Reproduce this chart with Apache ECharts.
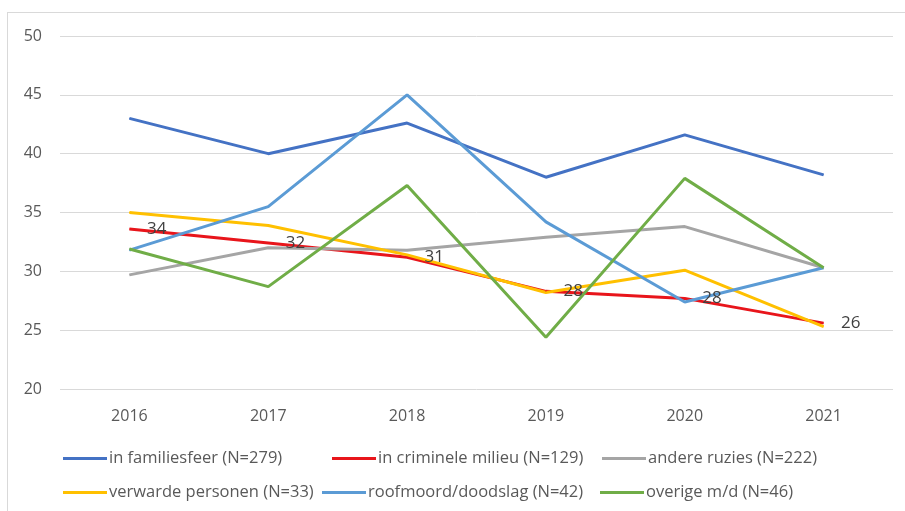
<!DOCTYPE html>
<html>
<head>
<meta charset="utf-8">
<script src="https://cdn.jsdelivr.net/npm/echarts@6/dist/echarts.min.js"></script>
<style>
  html, body { margin: 0; padding: 0; background: #fff; }
  .frame {
    position: absolute;
    left: 7px;
    top: 12px;
    width: 905px;
    height: 510px;
    border-top: 1px solid #d9d9d9;
    border-left: 1px solid #d9d9d9;
  }
  #chart { width: 905px; height: 511px; position: absolute; left: 0; top: 0; }
</style>
</head>
<body>
<div class="frame"></div>
<div id="chart"></div>
<script>
// jaren
const years = ['2016', '2017', '2018', '2019', '2020', '2021'];

const familie = [43.0, 40.0, 42.6, 38.0, 41.6, 38.2];
const crimineel = [33.6, 32.4, 31.2, 28.3, 27.7, 25.6];
const ruzies = [29.7, 32.0, 31.8, 32.9, 33.8, 30.3];
const verward = [35.0, 33.9, 31.4, 28.2, 30.1, 25.3];
const roofmoord = [31.8, 35.5, 45.0, 34.2, 27.4, 30.3];
const overige = [31.9, 28.7, 37.3, 24.4, 37.9, 30.3];

const names = [
  'in familiesfeer (N=279)',
  'in criminele milieu (N=129)',
  'andere ruzies (N=222)',
  'verwarde personen (N=33)',
  'roofmoord/doodslag (N=42)',
  'overige m/d (N=46)'
];
const colors = ['#4472C4', '#E8151B', '#A5A5A5', '#FFC000', '#5B9BD5', '#70AD47'];
const seriesData = [familie, crimineel, ruzies, verward, roofmoord, overige];

const yTicks = { min: 20, max: 50, interval: 5 };

const fontFam = '"Open Sans", sans-serif';
const myChart = echarts.init(document.getElementById('chart'));

// legenda posities (kolommen zoals in Excel)
const legendPos = [
  [63, 450], [332, 450], [602, 450],
  [63, 484], [322, 484], [600, 484]
];

const series = names.map((name, i) => {
  const s = {
    name: name,
    type: 'line',
    data: seriesData[i],
    symbol: 'circle',
    symbolSize: 1,
    showSymbol: true,
    lineStyle: { width: 3, color: colors[i] },
    itemStyle: { color: colors[i] },
    emphasis: { disabled: true },
    animation: false
  };
  if (i === 1) {
    s.label = {
      show: true,
      position: 'right',
      distance: 17,
      color: '#404040',
      fontFamily: fontFam,
      fontSize: 17,
      formatter: p => Math.round(p.value)
    };
  }
  return s;
});

const chartOption = {
  animation: false,
  color: colors,
  grid: {
    left: 60,
    right: 12,
    top: 36,
    bottom: 122
  },
  legend: names.map((name, i) => ({
    data: [name],
    left: legendPos[i][0],
    top: legendPos[i][1],
    padding: 0,
    icon: 'rect',
    itemWidth: 44,
    itemHeight: 3,
    itemGap: 2,
    selectedMode: false,
    textStyle: {
      color: '#595959',
      fontFamily: fontFam,
      fontSize: 16.5,
      padding: [0, 0, 0, -3]
    }
  })),
  xAxis: {
    type: 'category',
    data: years,
    boundaryGap: true,
    axisTick: { show: false },
    axisLine: { show: false },
    axisLabel: {
      color: '#595959',
      fontFamily: fontFam,
      fontSize: 16,
      margin: 19
    }
  },
  yAxis: {
    type: 'value',
    min: yTicks.min,
    max: yTicks.max,
    interval: yTicks.interval,
    axisTick: { show: false },
    axisLine: { show: false },
    axisLabel: {
      color: '#595959',
      fontFamily: fontFam,
      fontSize: 16,
      margin: 18
    },
    splitLine: {
      lineStyle: { color: '#d9d9d9', width: 1 }
    }
  },
  series: series
};
myChart.setOption(chartOption);
</script>
</body>
</html>
